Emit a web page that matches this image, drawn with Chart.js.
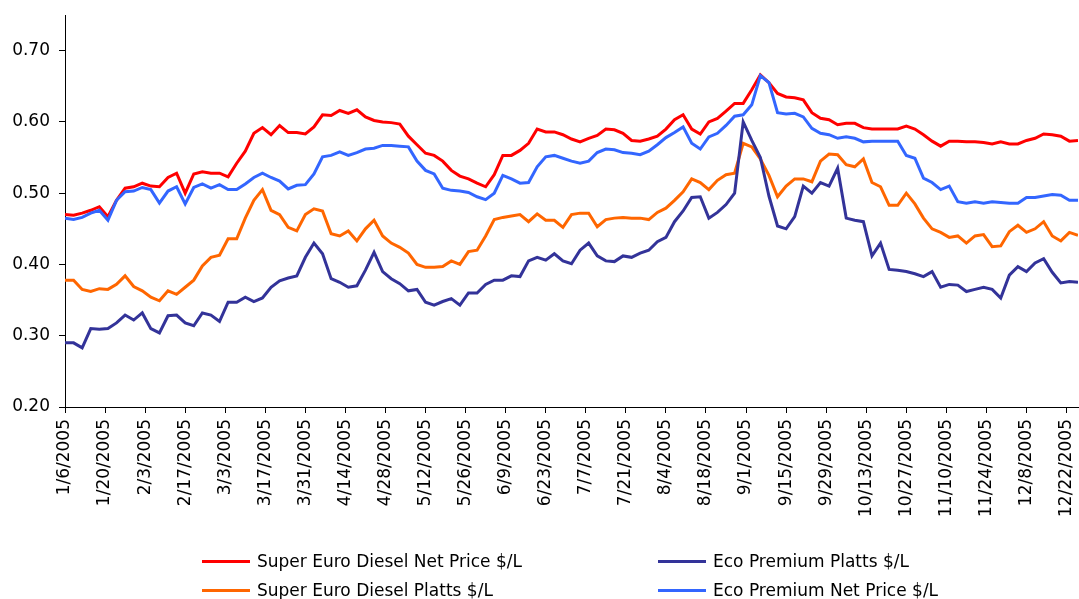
<!DOCTYPE html>
<html>
<head>
<meta charset="utf-8">
<script src="https://cdn.jsdelivr.net/npm/chart.js@4.4.1/dist/chart.umd.min.js"></script>
<style>
  html, body { margin: 0; padding: 0; background: #fff; overflow: hidden; }
  #wrap { position: relative; width: 1079px; height: 599px; }
  #legend { font-family: "DejaVu Sans", sans-serif; font-size: 17px; color: #000; }
  .item { position: absolute; white-space: nowrap; height: 20px; line-height: 20px; }
  .swatch { position: absolute; left: 0; top: 9px; width: 48px; height: 3px; }
  .label { position: absolute; left: 55px; top: 0; }
</style>
</head>
<body>
<div id="wrap">
  <canvas id="price-chart" width="1079" height="599"></canvas>
  <div id="legend"></div>
</div>
<script>
// days after 1/6/2005, one reading every 3 days
var stepDays = 3;

var tickLabels = ['1/6/2005', '1/20/2005', '2/3/2005', '2/17/2005', '3/3/2005', '3/17/2005',
  '3/31/2005', '4/14/2005', '4/28/2005', '5/12/2005', '5/26/2005', '6/9/2005', '6/23/2005',
  '7/7/2005', '7/21/2005', '8/4/2005', '8/18/2005', '9/1/2005', '9/15/2005', '9/29/2005',
  '10/13/2005', '10/27/2005', '11/10/2005', '11/24/2005', '12/8/2005', '12/22/2005'];

var superNet = [0.470, 0.469, 0.472, 0.476, 0.481, 0.467, 0.490, 0.507, 0.509, 0.514,
  0.510, 0.509, 0.522, 0.528, 0.500, 0.527, 0.530, 0.528, 0.528, 0.523,
  0.542, 0.559, 0.584, 0.592, 0.582, 0.595, 0.585, 0.585, 0.583, 0.593,
  0.610, 0.609, 0.616, 0.612, 0.617, 0.607, 0.602, 0.600, 0.599, 0.597,
  0.580, 0.568, 0.556, 0.553, 0.545, 0.532, 0.524, 0.520, 0.514, 0.509,
  0.526, 0.553, 0.553, 0.560, 0.570, 0.590, 0.586, 0.586, 0.582, 0.576,
  0.572, 0.577, 0.581, 0.590, 0.589, 0.584, 0.574, 0.573, 0.576, 0.580,
  0.590, 0.603, 0.610, 0.590, 0.583, 0.600, 0.605, 0.615, 0.626, 0.626,
  0.645, 0.666, 0.655, 0.640, 0.635, 0.634, 0.631, 0.613, 0.605, 0.603,
  0.596, 0.598, 0.598, 0.592, 0.590, 0.590, 0.590, 0.590, 0.594, 0.590,
  0.582, 0.573, 0.566, 0.573, 0.573, 0.572, 0.572, 0.571, 0.569, 0.572,
  0.569, 0.569, 0.574, 0.577, 0.583, 0.582, 0.580, 0.573, 0.574];

var superPlatts = [0.378, 0.378, 0.365, 0.362, 0.366, 0.365, 0.372, 0.384, 0.369, 0.363,
  0.354, 0.349, 0.363, 0.358, 0.368, 0.378, 0.398, 0.410, 0.413, 0.436,
  0.436, 0.465, 0.490, 0.505, 0.476, 0.470, 0.452, 0.447, 0.470, 0.478,
  0.475, 0.443, 0.440, 0.447, 0.433, 0.450, 0.462, 0.440, 0.430, 0.424,
  0.416, 0.400, 0.396, 0.396, 0.397, 0.405, 0.400, 0.418, 0.420, 0.440,
  0.463, 0.466, 0.468, 0.470, 0.460, 0.471, 0.462, 0.462, 0.452, 0.470,
  0.472, 0.472, 0.453, 0.463, 0.465, 0.466, 0.465, 0.465, 0.463, 0.473,
  0.479, 0.490, 0.502, 0.520, 0.515, 0.505, 0.518, 0.526, 0.528, 0.570,
  0.565, 0.548, 0.525, 0.495, 0.510, 0.520, 0.520, 0.516, 0.545, 0.555,
  0.554, 0.540, 0.537, 0.548, 0.515, 0.509, 0.483, 0.483, 0.500, 0.485,
  0.465, 0.450, 0.445, 0.438, 0.440, 0.430, 0.440, 0.442, 0.425, 0.426,
  0.446, 0.455, 0.445, 0.450, 0.460, 0.440, 0.433, 0.445, 0.441];

var ecoPlatts = [0.290, 0.290, 0.283, 0.310, 0.309, 0.310, 0.318, 0.329, 0.322, 0.332,
  0.310, 0.304, 0.328, 0.329, 0.318, 0.314, 0.332, 0.329, 0.320, 0.347,
  0.347, 0.354, 0.348, 0.353, 0.368, 0.377, 0.381, 0.384, 0.410, 0.430,
  0.415, 0.380, 0.375, 0.368, 0.370, 0.392, 0.417, 0.390, 0.380, 0.373,
  0.363, 0.365, 0.347, 0.343, 0.348, 0.352, 0.343, 0.360, 0.360, 0.372,
  0.378, 0.378, 0.384, 0.383, 0.405, 0.410, 0.406, 0.415, 0.405, 0.401,
  0.420, 0.430, 0.412, 0.405, 0.404, 0.412, 0.410, 0.416, 0.420, 0.432,
  0.438, 0.460, 0.475, 0.494, 0.495, 0.465, 0.473, 0.484, 0.500, 0.600,
  0.574, 0.550, 0.496, 0.454, 0.450, 0.467, 0.510, 0.500, 0.515, 0.510,
  0.535, 0.465, 0.462, 0.460, 0.412, 0.430, 0.393, 0.392, 0.390, 0.387,
  0.383, 0.390, 0.368, 0.372, 0.371, 0.362, 0.365, 0.368, 0.365, 0.353,
  0.385, 0.397, 0.390, 0.402, 0.408, 0.389, 0.374, 0.376, 0.375];

var ecoNet = [0.465, 0.463, 0.466, 0.472, 0.476, 0.462, 0.490, 0.502, 0.503, 0.508,
  0.505, 0.486, 0.503, 0.509, 0.485, 0.508, 0.513, 0.507, 0.512, 0.505,
  0.505, 0.513, 0.522, 0.528, 0.522, 0.517, 0.506, 0.511, 0.512, 0.527,
  0.551, 0.553, 0.558, 0.553, 0.557, 0.562, 0.563, 0.567, 0.567, 0.566,
  0.565, 0.545, 0.532, 0.527, 0.507, 0.504, 0.503, 0.501, 0.495, 0.491,
  0.500, 0.525, 0.520, 0.514, 0.515, 0.537, 0.551, 0.553, 0.549, 0.545,
  0.542, 0.545, 0.557, 0.562, 0.561, 0.557, 0.556, 0.554, 0.559, 0.568,
  0.578, 0.585, 0.593, 0.570, 0.562, 0.579, 0.584, 0.595, 0.608, 0.610,
  0.624, 0.665, 0.655, 0.613, 0.611, 0.612, 0.607, 0.591, 0.584, 0.582,
  0.577, 0.579, 0.577, 0.572, 0.573, 0.573, 0.573, 0.573, 0.553, 0.549,
  0.521, 0.515, 0.505, 0.510, 0.488, 0.486, 0.488, 0.486, 0.488, 0.487,
  0.486, 0.486, 0.494, 0.494, 0.496, 0.498, 0.497, 0.490, 0.490];

function points(values) {
  return values.map(function (v, i) { return { x: i * stepDays, y: v }; });
}

var series = [
  { label: 'Super Euro Diesel Net Price $/L', values: superNet, color: '#FF0000' },
  { label: 'Super Euro Diesel Platts $/L', values: superPlatts, color: '#FF6600' },
  { label: 'Eco Premium Platts $/L', values: ecoPlatts, color: '#333399' },
  { label: 'Eco Premium Net Price $/L', values: ecoNet, color: '#3366FF' }
];

var tickFont = { family: 'DejaVu Sans', size: 17 };

var canvas = document.getElementById('price-chart');

var chart = new Chart(canvas, {
  type: 'line',
  data: {
    datasets: series.map(function (s, i) {
      return {
        label: s.label,
        data: points(s.values),
        borderColor: s.color,
        backgroundColor: s.color,
        borderWidth: 3,
        pointRadius: 0,
        tension: 0,
        fill: false,
        order: series.length - i   // later series drawn on top, like Excel
      };
    })
  },
  options: {
    responsive: false,
    animation: false,
    layout: { padding: { top: 15, right: 1, left: 0, bottom: 0 } },
    plugins: { legend: { display: false }, tooltip: { enabled: false } },
    scales: {
      x: {
        type: 'linear',
        min: 0,
        max: 354,
        afterFit: function (scale) {
          scale.height = 192;
          scale.paddingLeft = 0;
          scale.paddingRight = 0;
        },
        grid: { drawOnChartArea: false, tickLength: 6, color: '#000' },
        border: { color: '#000' },
        ticks: {
          stepSize: 14,
          includeBounds: false,
          autoSkip: false,
          minRotation: 90,
          maxRotation: 90,
          padding: 6,
          color: '#000',
          font: tickFont,
          callback: function (v) { return tickLabels[Math.round(v / 14)]; }
        }
      },
      y: {
        min: 0.2,
        max: 0.75,
        afterFit: function (scale) {
          scale.width = 65;
          scale.paddingTop = 0;
          scale.paddingBottom = 0;
        },
        grid: { drawOnChartArea: false, tickLength: 6, color: '#000' },
        border: { color: '#000' },
        ticks: {
          stepSize: 0.1,
          includeBounds: false,
          padding: 9,
          color: '#000',
          font: tickFont,
          callback: function (v) { return v.toFixed(2); }
        }
      }
    }
  }
});

// legend laid out in two columns like the original
var slots = [[202, 551], [202, 580], [658, 551], [658, 580]];
var legend = document.getElementById('legend');
series.forEach(function (s, i) {
  var item = document.createElement('div');
  item.className = 'item';
  item.style.left = slots[i][0] + 'px';
  item.style.top = slots[i][1] + 'px';
  item.innerHTML = '<span class="swatch" style="background:' + s.color + '"></span>' +
    '<span class="label"></span>';
  item.querySelector('.label').textContent = s.label;
  legend.appendChild(item);
});
</script>
</body>
</html>
